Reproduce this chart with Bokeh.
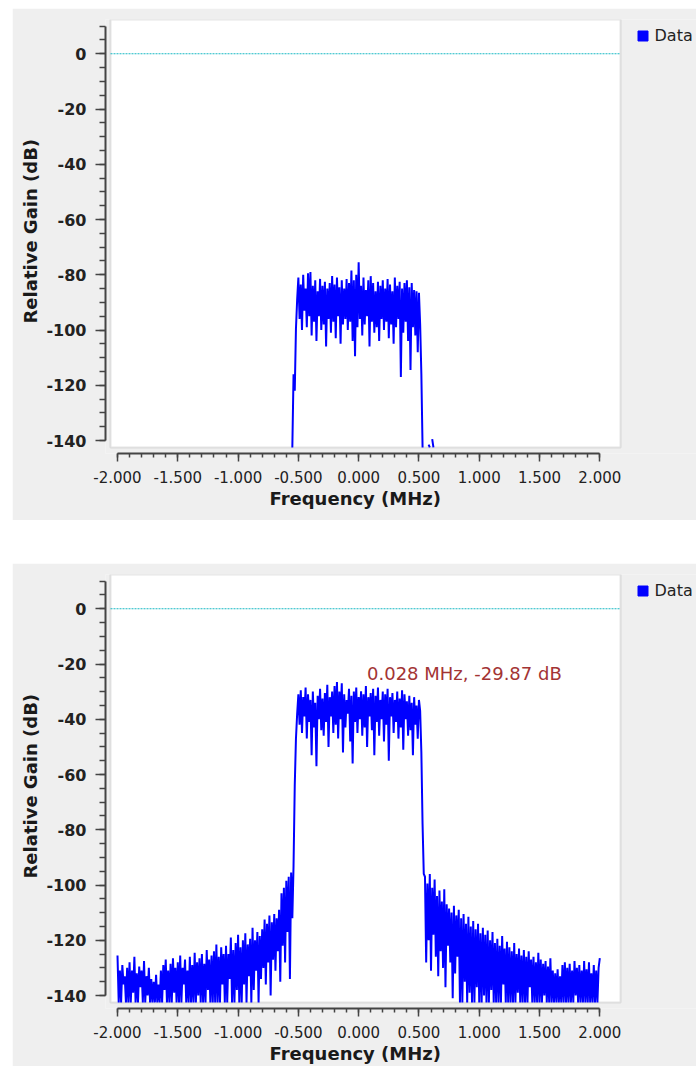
import numpy as np
from bokeh.plotting import figure
from bokeh.layouts import column
from bokeh.models import (Range1d, SingleIntervalTicker, PrintfTickFormatter, BoxAnnotation,
                          Legend, LegendItem, Label, ColumnDataSource, Title)
from bokeh.embed import file_html
from bokeh.resources import INLINE

nan = float("nan")

# ---------------- data ----------------
freq_min, freq_max = -2.0, 2.0          # MHz
gain_axis_min, gain_axis_max = -140, 10  # dB
floor_gain = -142.5                      # lowest visible level (values below are clipped)
series_name = "Data"
reference_level = 0.0
x_title = "Frequency (MHz)"
y_title = "Relative Gain (dB)"

# Panel 1: filtered signal, bins -0.55 .. 0.62 MHz (0.01 MHz step)
top_start, top_end = -0.55, 0.62
top_gain = [
    -142.5, -116, -122, -99.5, -89,
    -81, -96, -83.5, -100, -80, -93, -85, -99, -79.5, -95,
    -79, -102, -84, -97, -82, -104, -86, -95, -81.5, -100,
    -84, -98, -82.5, -106, -85, -96, -83, -101, -80.5, -97,
    -83.5, -103, -81, -95, -84.5, -105, -82, -98, -85, -96,
    -81.5, -100, -83, -97, -78.5, -104, -82, -109.5, -80, -99,
    -75.5, -96, -84, -102, -81, -98, -85.5, -95, -82, -106,
    -80.5, -97, -83, -101, -86, -99, -82.5, -104, -84, -96,
    -82, -100, -85, -97, -81.5, -103, -83.5, -98, -86, -105,
    -81, -99, -84, -96, -82.5, -117, -85, -101, -83, -97,
    -82, -104, -84.5, -114.5, -83, -99, -85.5, -102, -86, -108,
    -86.5, -98, -116, -142.5,
    nan, nan, nan, nan, -141.5, -142.5, nan, -139.5, -142.5,
]

# Panel 2: full spectrum
left_skirt_start, left_skirt_end = -2.00, -0.55
left_skirt_gain = [
    -125.5, -142.5, -131, -142.5, -129, -136, -133, -142.5, -130, -142.5,
    -128, -142.5, -131, -139, -126, -142.5, -132, -142.5, -129.5, -137,
    -131, -142.5, -127.5, -142.5, -133, -140, -130, -142.5, -134, -142.5,
    -135, -142.5, -132.5, -142.5, -136, -142.5, -131, -142.5, -129, -138,
    -127, -142.5, -131, -142.5, -128.5, -142.5, -126.5, -139, -130, -142.5,
    -128, -142.5, -125.5, -142.5, -130, -136, -127, -142.5, -131, -142.5,
    -126, -142.5, -129, -142.5, -124.5, -142.5, -128, -140, -126.5, -142.5,
    -125, -142.5, -128.5, -142.5, -123.5, -138, -127, -142.5, -125.5, -142.5,
    -124, -142.5, -121.5, -142.5, -126, -142.5, -122.5, -136, -125, -142.5,
    -122, -142.5, -125, -134, -119, -142.5, -123.5, -142.5, -121, -138,
    -118, -142.5, -122.5, -142.5, -120, -136, -117.5, -142.5, -121.5, -133,
    -119.5, -142.5, -115.5, -138, -120, -131, -117, -142.5, -118.5, -134,
    -116, -130, -112.5, -136, -114, -128, -111, -140, -113.5, -127,
    -110.5, -131, -112, -124, -109, -135, -103, -122, -101, -128,
    -98.5, -117, -97, -134, -95.5, -112,
]

band_start, band_end = -0.54, 0.54
band_gain = [
    -93, -64, -47, -38, -31,
    -42, -29.5, -45, -32, -39, -28.5, -47, -31, -41, -33,
    -53, -30, -43, -34, -57, -31.5, -40, -29, -44, -32.5,
    -46, -30.5, -41, -27.5, -50, -32, -39, -30, -45, -28,
    -42, -26.5, -47, -30, -40, -27, -52, -31, -43, -33,
    -38, -29, -48, -31.5, -56, -30, -41, -28.5, -45, -32,
    -40, -29.9, -46, -31, -43, -28, -50, -32, -39, -30.5,
    -44, -29, -53, -31.5, -41, -28.5, -46, -33, -40, -30,
    -48, -31, -42, -29, -55, -32, -39, -30.5, -45, -33,
    -41, -30, -47, -32.5, -43, -29.5, -51, -31, -40, -33.5,
    -46, -31.5, -44, -34, -53, -32, -42, -35, -47, -33,
    -37, -52, -78, -96,
]

right_skirt_start, right_skirt_end = 0.55, 2.00
right_skirt_gain = [
    -97, -128, -99.5, -120, -96, -131, -101, -118, -98, -126,
    -104, -133, -102, -124, -106, -130, -101.5, -137, -107, -122,
    -108.5, -128, -110, -141, -107.5, -132, -111, -126, -109, -142.5,
    -112, -142.5, -110.5, -135, -114, -142.5, -111.5, -139, -115, -142.5,
    -113, -142.5, -116, -137, -114, -142.5, -117.5, -142.5, -115.5, -140,
    -118, -142.5, -116.5, -142.5, -120, -138, -117, -142.5, -121, -142.5,
    -119.5, -142.5, -122, -142.5, -118.5, -136, -123, -142.5, -120.5, -142.5,
    -122.5, -142.5, -124, -142.5, -121, -142.5, -125, -139, -123, -142.5,
    -125.5, -142.5, -123.5, -142.5, -126, -142.5, -124, -137, -127, -142.5,
    -126, -142.5, -128, -142.5, -124.5, -142.5, -127, -142.5, -128.5, -140,
    -127.5, -142.5, -129.5, -142.5, -126.5, -142.5, -131, -142.5, -132, -142.5,
    -130.5, -142.5, -133, -142.5, -129, -142.5, -128, -142.5, -130, -142.5,
    -128.5, -142.5, -131, -142.5, -127.5, -140, -130, -142.5, -129, -142.5,
    -131, -142.5, -127.5, -142.5, -130.5, -142.5, -128, -142.5, -132, -142.5,
    -129, -142.5, -131, -142.5, -130, -126.5,
]

marker_freq = 0.028
marker_gain = -29.87
marker_text = "0.028 MHz, -29.87 dB"

# ---------------- styling / layout ----------------
FONT = "DejaVu Sans"
BLUE = "#0000ff"
PANEL = "#efefef"
X_RANGE = (-2.0995, 2.8018)     # frame spans the canvas plus the legend strip
Y_RANGE = (-144.7, 12.4)
CANVAS_LEFT, CANVAS_RIGHT = -2.058, 2.1717


def make_panel(xs, ys, height, bottom_border, marker=None):
    p = figure(width=684, height=height,
               x_range=Range1d(*X_RANGE), y_range=Range1d(*Y_RANGE),
               output_backend="svg", toolbar_location=None,
               min_border_left=93, min_border_right=0,
               min_border_top=11, min_border_bottom=bottom_border)
    p.border_fill_color = PANEL
    p.background_fill_color = PANEL
    p.outline_line_color = None
    p.xgrid.visible = False
    p.ygrid.visible = False

    canvas = BoxAnnotation(left=CANVAS_LEFT, right=CANVAS_RIGHT, bottom=floor_gain,
                           fill_color="white", fill_alpha=1.0,
                           line_color="#a9a9a9", line_width=2, level="underlay")
    p.add_layout(canvas)

    # dotted reference line across the canvas
    p.segment(x0=[CANVAS_LEFT], x1=[CANVAS_RIGHT], y0=[reference_level], y1=[reference_level],
              line_color="#19b9c4", line_width=1.2, line_dash="2 1")

    src = ColumnDataSource(data=dict(freq=xs, gain=ys))
    p.line("freq", "gain", source=src, line_color=BLUE, line_width=2)

    proxy = p.scatter(x=[nan], y=[nan], marker="square", size=10, fill_color=BLUE, line_color=BLUE)
    legend = Legend(items=[LegendItem(label=series_name, renderers=[proxy])],
                    location=(524.5, 405.5), padding=0, margin=0, spacing=0,
                    glyph_width=25, glyph_height=25, label_height=25, label_standoff=0,
                    background_fill_alpha=0, border_line_color=None,
                    label_text_font=FONT, label_text_font_size="16px",
                    label_text_color="#222222")
    p.add_layout(legend)

    xa = p.xaxis[0]
    xa.bounds = (freq_min, freq_max)
    xa.ticker = SingleIntervalTicker(interval=0.5, num_minor_ticks=5)
    xa.formatter = PrintfTickFormatter(format="%.3f")
    xa.major_label_text_font = FONT
    xa.major_label_text_font_size = "15px"
    xa.major_label_text_color = "#222222"
    xa.major_label_standoff = 9
    xa.major_tick_in = 0
    xa.major_tick_out = 8
    xa.minor_tick_in = 0
    xa.minor_tick_out = 4
    xa.axis_line_color = "#444444"
    xa.axis_line_width = 2
    xa.major_tick_line_color = "#444444"
    xa.major_tick_line_width = 1.5
    xa.minor_tick_line_color = "#444444"
    xa.minor_tick_line_width = 1.5

    # x-axis title, placed under the frequency scale (not under the legend strip)
    p.add_layout(Title(text=x_title, align="left", offset=164, standoff=0,
                       text_font=FONT, text_font_size="18px", text_font_style="bold",
                       text_color="#1a1a1a"), "below")

    ya = p.yaxis[0]
    ya.bounds = (gain_axis_min, gain_axis_max)
    ya.ticker = SingleIntervalTicker(interval=20, num_minor_ticks=4)
    ya.formatter = PrintfTickFormatter(format="%d")
    ya.major_label_text_font = FONT
    ya.major_label_text_font_size = "16px"
    ya.major_label_text_font_style = "bold"
    ya.major_label_text_color = "#222222"
    ya.major_label_standoff = 9
    ya.major_tick_in = 0
    ya.major_tick_out = 10
    ya.minor_tick_in = 0
    ya.minor_tick_out = 6
    ya.axis_line_color = "#444444"
    ya.axis_line_width = 2
    ya.major_tick_line_color = "#444444"
    ya.major_tick_line_width = 1.5
    ya.minor_tick_line_color = "#444444"
    ya.minor_tick_line_width = 1.5

    p.add_layout(Title(text=y_title, align="left", offset=130, standoff=6,
                       text_font=FONT, text_font_size="18px", text_font_style="bold",
                       text_color="#1a1a1a"), "left")

    if marker is not None:
        mx, my, mt = marker
        p.add_layout(Label(x=mx, y=my, text=mt, x_offset=5, y_offset=18,
                           text_baseline="alphabetic", text_font=FONT,
                           text_font_size="18px", text_color="#a33434"))
    return p


top_x = np.linspace(top_start, top_end, len(top_gain))
p1 = make_panel(top_x, np.array(top_gain, dtype=float), 512, 67)

bot_x = np.concatenate([
    np.linspace(left_skirt_start, left_skirt_end, len(left_skirt_gain)),
    np.linspace(band_start, band_end, len(band_gain)),
    np.linspace(right_skirt_start, right_skirt_end, len(right_skirt_gain)),
])
bot_y = np.array(left_skirt_gain + band_gain + right_skirt_gain, dtype=float)
p2 = make_panel(bot_x, bot_y, 503, 58, marker=(marker_freq, marker_gain, marker_text))

p1.margin = (8, 0, 0, 12)
p2.margin = (43, 0, 0, 12)

layout = column(p1, p2, spacing=0)

open("out.html", "w").write(file_html(layout, INLINE))
